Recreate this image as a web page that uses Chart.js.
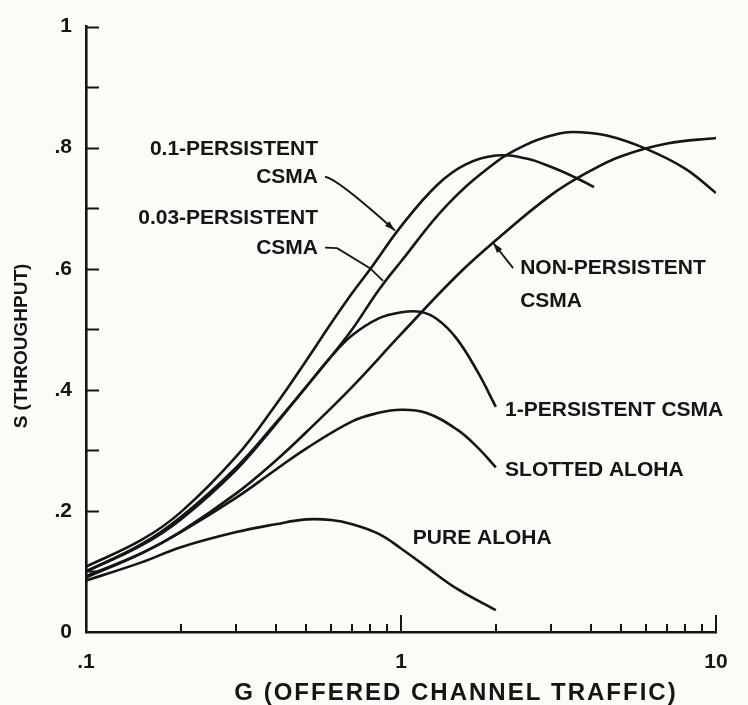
<!DOCTYPE html>
<html>
<head>
<meta charset="utf-8">
<script src="https://cdn.jsdelivr.net/npm/chart.js@4.4.0/dist/chart.umd.min.js"></script>
<style>
    html, body { margin: 0; padding: 0; background: #fbfbf8; }
    #chart { display: block; }
</style>
</head>
<body>
<canvas id="chart" width="748" height="705"></canvas>
<script>
    "use strict";

    // Pure ALOHA
    const gPure = [0.1, 0.15, 0.2, 0.3, 0.4, 0.5, 0.6, 0.7, 0.85, 1.0, 1.2, 1.5, 2.0];
    const sPure = [0.085, 0.115, 0.14, 0.165, 0.178, 0.186, 0.185, 0.178, 0.162, 0.138, 0.108, 0.072, 0.036];

    // Slotted ALOHA
    const gSlotted = [0.1, 0.15, 0.2, 0.3, 0.4, 0.5, 0.7, 0.85, 1.0, 1.2, 1.5, 1.75, 2.0];
    const sSlotted = [0.092, 0.13, 0.165, 0.222, 0.268, 0.303, 0.348, 0.362, 0.367, 0.362, 0.335, 0.305, 0.272];

    // 1-persistent CSMA
    const gOnePers = [0.1, 0.15, 0.2, 0.3, 0.4, 0.5, 0.6, 0.7, 0.85, 1.0, 1.15, 1.3, 1.5, 1.75, 2.0];
    const sOnePers = [0.1, 0.145, 0.19, 0.272, 0.345, 0.405, 0.455, 0.49, 0.518, 0.528, 0.529, 0.517, 0.485, 0.43, 0.372];

    // Non-persistent CSMA
    const gNonPers = [0.1, 0.15, 0.2, 0.3, 0.4, 0.5, 0.7, 1.0, 1.5, 2.0, 3.0, 4.0, 5.0, 7.0, 10];
    const sNonPers = [0.09, 0.13, 0.166, 0.229, 0.283, 0.33, 0.405, 0.492, 0.588, 0.647, 0.722, 0.762, 0.786, 0.807, 0.816];

    // 0.1-persistent CSMA
    const gPers01 = [0.1, 0.15, 0.2, 0.3, 0.4, 0.5, 0.6, 0.7, 0.8, 1.0, 1.3, 1.6, 2.0, 2.5, 3.0, 3.6, 4.1];
    const sPers01 = [0.108, 0.152, 0.198, 0.29, 0.375, 0.448, 0.51, 0.56, 0.6, 0.67, 0.738, 0.772, 0.787, 0.782, 0.768, 0.75, 0.735];

    // 0.03-persistent CSMA
    const gPers003 = [0.1, 0.15, 0.2, 0.3, 0.4, 0.5, 0.6, 0.7, 0.85, 1.0, 1.4, 2.0, 2.5, 3.0, 3.5, 4.5, 6.0, 8.0, 10];
    const sPers003 = [0.1, 0.143, 0.186, 0.268, 0.343, 0.405, 0.455, 0.5, 0.565, 0.612, 0.705, 0.776, 0.805, 0.82, 0.826, 0.82, 0.798, 0.765, 0.725];

    // Axis ticks
    const xTickValues = [0.1, 0.2, 0.3, 0.4, 0.5, 0.6, 0.7, 0.8, 0.9, 1, 2, 3, 4, 5, 6, 7, 8, 9, 10];
    const xTickLabels = { "0.1": ".1", "1": "1", "10": "10" };
    const yTickLabels = { 0: "0", 2: ".2", 4: ".4", 6: ".6", 8: ".8", 10: "1" };

    const ink = "#151515";
    const fontFamily = "'Liberation Sans', Arial, sans-serif";

    // Curve labels, anchored in data units (G, S)
    const curveLabels = [
        { text: "0.1-PERSISTENT", g: 0.545, s: 0.798, align: "right" },
        { text: "CSMA", g: 0.545, s: 0.751, align: "right" },
        { text: "0.03-PERSISTENT", g: 0.545, s: 0.684, align: "right" },
        { text: "CSMA", g: 0.545, s: 0.634, align: "right" },
        { text: "NON-PERSISTENT", g: 2.39, s: 0.601, align: "left" },
        { text: "CSMA", g: 2.39, s: 0.546, align: "left" },
        { text: "1-PERSISTENT CSMA", g: 2.14, s: 0.366, align: "left" },
        { text: "SLOTTED ALOHA", g: 2.14, s: 0.267, align: "left" },
        { text: "PURE ALOHA", g: 1.09, s: 0.155, align: "left" }
    ];

    // Leader lines from labels to curves
    const leaders = [
        { pts: [[0.574, 0.752], [0.627, 0.749], [0.957, 0.663]], arrow: true },
        { pts: [[0.574, 0.635], [0.627, 0.634], [0.797, 0.601], [0.877, 0.58]], arrow: false },
        { pts: [[2.27, 0.601], [1.96, 0.643]], arrow: true }
    ];

    function toPoints(gs, ss) {
        return gs.map(function (g, i) { return { x: g, y: ss[i] }; });
    }

    function curve(label, gs, ss) {
        return {
            label: label,
            data: toPoints(gs, ss),
            borderColor: ink,
            borderWidth: 2.6,
            pointRadius: 0,
            fill: false,
            tension: 0.4
        };
    }

    // Inward tick marks, labels, leaders and axis titles
    const paperDecor = {
        id: "paperDecor",
        afterDraw: function (chart) {
            const ctx = chart.ctx;
            const a = chart.chartArea;
            const x = chart.scales.x;
            const y = chart.scales.y;

            ctx.save();
            ctx.strokeStyle = ink;
            ctx.fillStyle = ink;
            ctx.lineWidth = 2;
            ctx.lineCap = "butt";

            // y ticks point into the plot
            for (let i = 1; i <= 10; i++) {
                const py = Math.round(y.getPixelForValue(i / 10)) + 0.5;
                ctx.beginPath();
                ctx.moveTo(a.left, py);
                ctx.lineTo(a.left + 13, py);
                ctx.stroke();
            }
            // x ticks point up
            x.ticks.forEach(function (t) {
                if (t.value <= 0.1) return;
                const px = Math.round(x.getPixelForValue(t.value));
                const major = (t.value === 1 || t.value === 10);
                ctx.beginPath();
                ctx.moveTo(px, a.bottom);
                ctx.lineTo(px, a.bottom - (major ? 17 : 8));
                ctx.stroke();
            });

            // curve labels
            ctx.font = "bold 21px " + fontFamily;
            ctx.textBaseline = "middle";
            curveLabels.forEach(function (l) {
                ctx.textAlign = l.align;
                ctx.fillText(l.text, x.getPixelForValue(l.g), y.getPixelForValue(l.s));
            });

            // leaders
            ctx.lineWidth = 1.8;
            leaders.forEach(function (ld) {
                const p = ld.pts.map(function (q) {
                    return [x.getPixelForValue(q[0]), y.getPixelForValue(q[1])];
                });
                ctx.beginPath();
                ctx.moveTo(p[0][0], p[0][1]);
                if (p.length === 3) {
                    ctx.quadraticCurveTo(p[1][0], p[1][1], p[2][0], p[2][1]);
                } else {
                    for (let i = 1; i < p.length; i++) ctx.lineTo(p[i][0], p[i][1]);
                }
                ctx.stroke();
                if (ld.arrow) {
                    const e = p[p.length - 1];
                    const b = p[p.length - 2];
                    const ang = Math.atan2(e[1] - b[1], e[0] - b[0]);
                    ctx.beginPath();
                    ctx.moveTo(e[0], e[1]);
                    ctx.lineTo(e[0] - 11 * Math.cos(ang - 0.3), e[1] - 11 * Math.sin(ang - 0.3));
                    ctx.lineTo(e[0] - 11 * Math.cos(ang + 0.3), e[1] - 11 * Math.sin(ang + 0.3));
                    ctx.closePath();
                    ctx.fill();
                }
            });

            // axis titles
            ctx.textAlign = "center";
            ctx.font = "bold 24px " + fontFamily;
            if ("letterSpacing" in ctx) ctx.letterSpacing = "2px";
            ctx.fillText("G (OFFERED CHANNEL TRAFFIC)", 456, 693);
            if ("letterSpacing" in ctx) ctx.letterSpacing = "0px";

            ctx.translate(22, 346);
            ctx.rotate(-Math.PI / 2);
            ctx.font = "bold 19px " + fontFamily;
            ctx.fillText("S (THROUGHPUT)", 0, 0);
            ctx.restore();
        }
    };

    const tickFont = { family: fontFamily, size: 21, weight: "bold" };

    new Chart(document.getElementById("chart").getContext("2d"), {
        type: "line",
        data: {
            datasets: [
                curve("Pure ALOHA", gPure, sPure),
                curve("Slotted ALOHA", gSlotted, sSlotted),
                curve("1-persistent CSMA", gOnePers, sOnePers),
                curve("Non-persistent CSMA", gNonPers, sNonPers),
                curve("0.1-persistent CSMA", gPers01, sPers01),
                curve("0.03-persistent CSMA", gPers003, sPers003)
            ]
        },
        options: {
            responsive: false,
            animation: false,
            devicePixelRatio: 1,
            layout: { padding: { top: 18, right: 32, left: 0, bottom: 0 } },
            plugins: {
                legend: { display: false },
                title: { display: false },
                tooltip: { enabled: false }
            },
            scales: {
                x: {
                    type: "logarithmic",
                    min: 0.1,
                    max: 10,
                    afterBuildTicks: function (scale) {
                        scale.ticks = xTickValues.map(function (v) { return { value: v }; });
                    },
                    afterFit: function (scale) { scale.height = 73; },
                    grid: { display: false, drawTicks: false },
                    border: { display: true, color: ink, width: 2.6 },
                    ticks: {
                        autoSkip: false,
                        maxRotation: 0,
                        padding: 18,
                        color: ink,
                        font: tickFont,
                        callback: function (v) {
                            const key = String(Math.round(v * 10) / 10);
                            return xTickLabels[key] || "";
                        }
                    }
                },
                y: {
                    type: "linear",
                    min: 0,
                    max: 1,
                    afterFit: function (scale) { scale.width = 86; },
                    grid: { display: false, drawTicks: false },
                    border: { display: true, color: ink, width: 2.6 },
                    ticks: {
                        stepSize: 0.1,
                        padding: 14,
                        color: ink,
                        font: tickFont,
                        callback: function (v) {
                            const k = Math.round(v * 10);
                            return yTickLabels[k] !== undefined ? yTickLabels[k] : "";
                        }
                    }
                }
            }
        },
        plugins: [paperDecor]
    });
</script>
</body>
</html>
